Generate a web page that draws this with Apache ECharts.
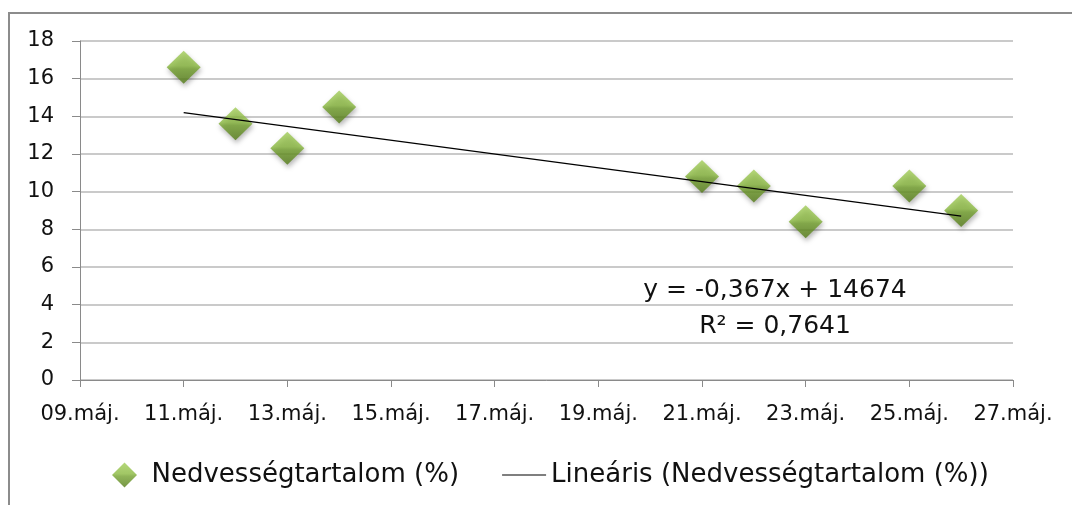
<!DOCTYPE html>
<html>
<head>
<meta charset="utf-8">
<script src="https://cdn.jsdelivr.net/npm/echarts@6/dist/echarts.min.js"></script>
<style>
html,body{margin:0;padding:0;background:#fff;}
#chart{width:1072px;height:505px;}
</style>
</head>
<body>
<div id="chart"></div>
<script>
// Data
const days = [11, 12, 13, 14, 21, 22, 23, 25, 26];          // day of May
const moisture = [16.6, 13.6, 12.3, 14.5, 10.8, 10.3, 8.4, 10.3, 9.0]; // Nedvességtartalom (%)
const trendDays = [11, 26];
const trendValues = [14.2, 8.7];
const firstDay = 9;      // 09.máj.
const lastDay = 27;      // 27.máj.
const dayStep = 2;
const yTicks = [0, 2, 4, 6, 8, 10, 12, 14, 16, 18];
const seriesName = 'Nedvességtartalom (%)';
const trendName = 'Lineáris (Nedvességtartalom (%))';
const equationText = 'y = -0,367x + 14674';
const r2Text = 'R² = 0,7641';

const FONT = 'DejaVu Sans';
const chart = echarts.init(document.getElementById('chart'), null, {renderer: 'canvas'});

const scatterData = days.map((d, i) => [d - firstDay, moisture[i]]);
const trendData = trendDays.map((d, i) => [d - firstDay, trendValues[i]]);

const makeFill = () => new echarts.graphic.LinearGradient(0, 0, 0, 1, [
  {offset: 0, color: '#a2cd58'},
  {offset: 0.45, color: '#8ab93f'},
  {offset: 0.55, color: '#74a22e'},
  {offset: 1, color: '#547b18'}
]);

chart.setOption({
  animation: false,
  backgroundColor: '#fff',
  grid: {left: 80, right: 59, top: 41, bottom: 125, containLabel: false},
  xAxis: {
    type: 'value',
    min: 0,
    max: lastDay - firstDay,
    interval: dayStep,
    axisLine: {show: true, lineStyle: {color: '#8a8a8a', width: 1}},
    axisTick: {show: true, length: 7, lineStyle: {color: '#8a8a8a'}},
    splitLine: {show: false},
    axisLabel: {
      margin: 24,
      color: '#111',
      fontFamily: FONT,
      fontSize: 21,
      formatter: v => String(v + firstDay).padStart(2, '0') + '.máj.'
    }
  },
  yAxis: {
    type: 'value',
    min: yTicks[0],
    max: yTicks[yTicks.length - 1],
    interval: yTicks[1] - yTicks[0],
    axisLine: {show: true, lineStyle: {color: '#8a8a8a', width: 1}},
    axisTick: {show: true, length: 8, lineStyle: {color: '#8a8a8a'}},
    splitLine: {show: true, lineStyle: {color: '#b8b8b8', width: 1.5}},
    axisLabel: {margin: 26, color: '#111', fontFamily: FONT, fontSize: 21}
  },
  legend: {
    show: true,
    left: 107,
    top: 457,
    itemWidth: 44,
    itemHeight: 25,
    itemGap: 43,
    symbolKeepAspect: true,
    textStyle: {fontFamily: FONT, fontSize: 26, color: '#111'},
    data: [
      {name: seriesName, icon: 'path://M12,0L24,12L12,24L0,12Z', itemStyle: {color: makeFill()}},
      {name: trendName, icon: 'path://M0,0L44,0L44,1.2L0,1.2Z', itemStyle: {color: '#000'}}
    ]
  },
  series: [
    {
      name: seriesName,
      type: 'scatter',
      symbol: 'diamond',
      symbolSize: [34, 33],
      data: scatterData,
      itemStyle: {
        color: makeFill(),
        shadowColor: 'rgba(0,0,0,0.35)',
        shadowBlur: 5,
        shadowOffsetY: 3,
        shadowOffsetX: 1
      },
      z: 3
    },
    {
      name: trendName,
      type: 'line',
      data: trendData,
      symbol: 'none',
      showSymbol: false,
      lineStyle: {color: '#000', width: 1.3},
      itemStyle: {color: '#000'},
      z: 4
    }
  ],
  graphic: [
    {
      type: 'rect',
      silent: true,
      shape: {x: 9, y: 13, width: 1200, height: 700},
      style: {fill: 'none', stroke: '#8c8c8c', lineWidth: 2},
      z: 100
    },
    {
      type: 'text',
      silent: true,
      x: 775, y: 290,
      style: {text: equationText, font: '25px "DejaVu Sans"', fill: '#111', align: 'center', verticalAlign: 'middle'},
      z: 100
    },
    {
      type: 'text',
      silent: true,
      x: 775, y: 326,
      style: {text: r2Text, font: '25px "DejaVu Sans"', fill: '#111', align: 'center', verticalAlign: 'middle'},
      z: 100
    }
  ]
});
</script>
</body>
</html>
